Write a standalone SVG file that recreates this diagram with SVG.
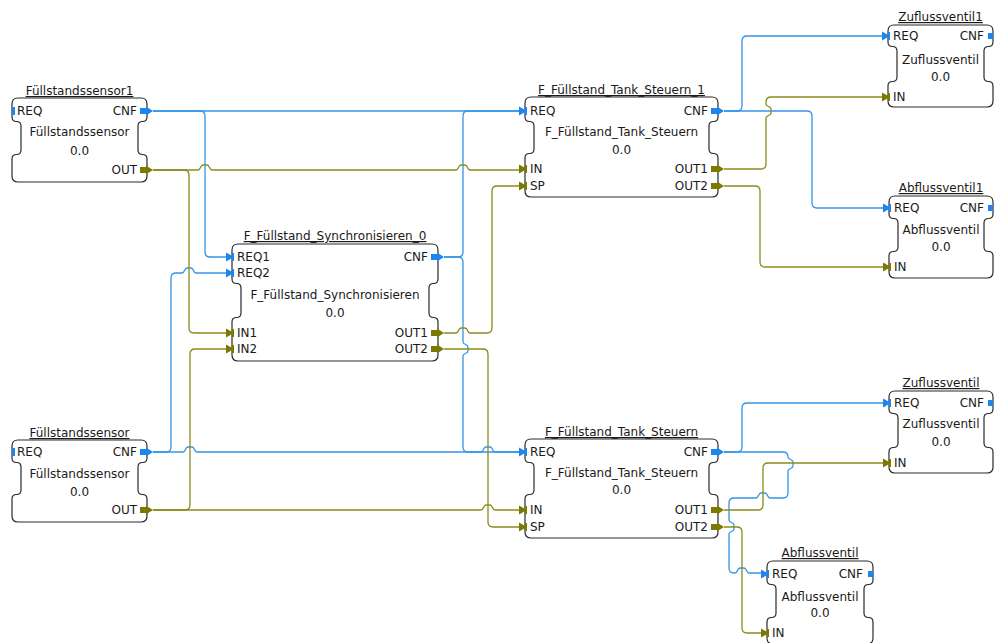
<svg xmlns="http://www.w3.org/2000/svg" xmlns:xlink="http://www.w3.org/1999/xlink" width="994" height="643" viewBox="0 0 994 643">
<style>
.box{fill:#fff;stroke:#2a2a2a;stroke-width:1.2}
.t{font-family:"DejaVu Sans",sans-serif;font-size:12px;fill:#1a1a1a}
.c{text-anchor:middle}
.r{text-anchor:end}
.ti{text-decoration:underline}
.ev{fill:none;stroke:#3595e6;stroke-width:1.3;stroke-linejoin:round}
.da{fill:none;stroke:#8a8a1e;stroke-width:1.3;stroke-linejoin:round}
.evf{fill:#1c86ee}
.daf{fill:#7a7a00}
</style>
<defs>
<g id="inE" class="evf"><polygon points="-6,-4.5 2,0 -6,4.5"/><rect x="0" y="-4" width="2" height="8"/></g>
<g id="inD" class="daf"><polygon points="-6,-4.5 2,0 -6,4.5"/><rect x="0" y="-4" width="2" height="8"/></g>
<g id="outE" class="evf"><rect x="-7" y="-3" width="6" height="6"/><polygon points="-1,-4.5 6,0 -1,4.5"/></g>
<g id="outD" class="daf"><rect x="-7" y="-3" width="6" height="6"/><polygon points="-1,-4.5 6,0 -1,4.5"/></g>
<rect id="tickE" class="evf" x="0" y="-4" width="3" height="8"/>
<rect id="sqE" class="evf" x="-5" y="-3" width="5" height="6"/>
</defs>
<rect width="994" height="643" fill="#fff"/>

<g id="connectors">
<path class="ev" d="M153,111 H519"/>
<path class="ev" d="M153,111 H200 Q205,111 205,116 V252 Q205,257 210,257 H226"/>
<path class="ev" d="M153,452 H183 c3,0 2,-5 5,-5 h4 c3,0 2,5 5,5 H481 c3,0 2,-5 5,-5 h4 c3,0 2,5 5,5 H519"/>
<path class="ev" d="M153,452 H166 Q171,452 171,447 V278 Q171,273 176,273 H182 c3,0 2,-5 5,-5 h4 c3,0 2,5 5,5 H226"/>
<path class="ev" d="M444,257 H458 Q463,257 463,252 V116 Q463,111 468,111 H519"/>
<path class="ev" d="M444,257 H458 Q463,257 463,262 V342 c0,3 5,2 5,5 v4 c0,3 -5,2 -5,5 V447 Q463,452 468,452 H519"/>
<path class="ev" d="M724,111 H737 Q742,111 742,106 V41 Q742,36 747,36 H882"/>
<path class="ev" d="M724,111 H807 Q812,111 812,116 V203 Q812,208 817,208 H883"/>
<path class="ev" d="M724,452 H737 Q742,452 742,447 V408 Q742,403 747,403 H883"/>
<path class="ev" d="M724,452 H783 Q788,452 788,457 c0,3 5,2 5,5 v4 c0,3 -5,2 -5,5 V493 Q788,498 783,498 H770 c-3,0 -2,-5 -5,-5 h-4 c-3,0 -2,5 -5,5 H734 Q729,498 729,503 V520 c0,3 5,2 5,5 v4 c0,3 -5,2 -5,5 V568 Q729,573 734,573 H735 c3,0 2,-5 5,-5 h4 c3,0 2,5 5,5 H761"/>
<path class="da" d="M153,170 H198 c3,0 2,-5 5,-5 h4 c3,0 2,5 5,5 H456 c3,0 2,-5 5,-5 h4 c3,0 2,5 5,5 H519"/>
<path class="da" d="M153,170 H184 Q189,170 189,175 V328 Q189,333 194,333 H226"/>
<path class="da" d="M153,510 H185 Q190,510 190,505 V354 Q190,349 195,349 H226"/>
<path class="da" d="M153,510 H481 c3,0 2,-5 5,-5 h4 c3,0 2,5 5,5 H519"/>
<path class="da" d="M444,333 H456 c3,0 2,-5 5,-5 h4 c3,0 2,5 5,5 H487 Q492,333 492,328 V191 Q492,186 497,186 H519"/>
<path class="da" d="M444,349 H483 Q488,349 488,354 V522 Q488,527 493,527 H519"/>
<path class="da" d="M724,169 H761 Q766,169 766,164 V118 c0,-3 5,-2 5,-5 v-4 c0,-3 -5,-2 -5,-5 V102 Q766,97 771,97 H882"/>
<path class="da" d="M724,186 H755 Q760,186 760,191 V262 Q760,267 765,267 H883"/>
<path class="da" d="M724,510 H758 Q763,510 763,505 V468 Q763,463 768,463 H883"/>
<path class="da" d="M724,527 H737 Q742,527 742,532 V628 Q742,633 747,633 H761"/>
</g>

<g id="Fuellstandssensor1">
<text class="t c ti" x="79.5" y="95">Füllstandssensor1</text>
<path class="box" d="M18,98 H141 Q147,98 147,104 V117 Q147,121.5 142.5,121.5 Q138,121.5 138,126 V150 Q138,154.5 142.5,154.5 Q147,154.5 147,159 V176 Q147,182 141,182 H18 Q12,182 12,176 V159 Q12,154.5 16.5,154.5 Q21,154.5 21,150 V126 Q21,121.5 16.5,121.5 Q12,121.5 12,117 V104 Q12,98 18,98 Z"/>
<text class="t" x="17" y="115">REQ</text>
<text class="t r" x="137" y="115">CNF</text>
<text class="t c" x="79.5" y="136">Füllstandssensor</text>
<text class="t c" x="79.5" y="155">0.0</text>
<text class="t r" x="137" y="174">OUT</text>
<use href="#tickE" x="12" y="111"/>
<use href="#outE" x="147" y="111"/>
<use href="#outD" x="147" y="170"/>
</g>

<g id="Fuellstandssensor">
<text class="t c ti" x="79.5" y="437">Füllstandssensor</text>
<path class="box" d="M18,440 H141 Q147,440 147,446 V458 Q147,462.5 142.5,462.5 Q138,462.5 138,467 V490 Q138,494.5 142.5,494.5 Q147,494.5 147,499 V516 Q147,522 141,522 H18 Q12,522 12,516 V499 Q12,494.5 16.5,494.5 Q21,494.5 21,490 V467 Q21,462.5 16.5,462.5 Q12,462.5 12,458 V446 Q12,440 18,440 Z"/>
<text class="t" x="17" y="456">REQ</text>
<text class="t r" x="137" y="456">CNF</text>
<text class="t c" x="79.5" y="478">Füllstandssensor</text>
<text class="t c" x="79.5" y="496">0.0</text>
<text class="t r" x="137" y="514">OUT</text>
<use href="#tickE" x="12" y="452"/>
<use href="#outE" x="147" y="452"/>
<use href="#outD" x="147" y="510"/>
</g>

<g id="F_Fuellstand_Synchronisieren_0">
<text class="t c ti" x="335" y="240">F_Füllstand_Synchronisieren_0</text>
<path class="box" d="M238,244 H432 Q438,244 438,250 V279 Q438,283.5 433.5,283.5 Q429,283.5 429,288 V313 Q429,317.5 433.5,317.5 Q438,317.5 438,322 V355 Q438,361 432,361 H238 Q232,361 232,355 V322 Q232,317.5 236.5,317.5 Q241,317.5 241,313 V288 Q241,283.5 236.5,283.5 Q232,283.5 232,279 V250 Q232,244 238,244 Z"/>
<text class="t" x="237" y="261">REQ1</text>
<text class="t" x="237" y="277">REQ2</text>
<text class="t r" x="428" y="261">CNF</text>
<text class="t c" x="335" y="299">F_Füllstand_Synchronisieren</text>
<text class="t c" x="335" y="317">0.0</text>
<text class="t" x="237" y="337">IN1</text>
<text class="t" x="237" y="353">IN2</text>
<text class="t r" x="428" y="337">OUT1</text>
<text class="t r" x="428" y="353">OUT2</text>
<use href="#inE" x="232" y="257"/>
<use href="#inE" x="232" y="273"/>
<use href="#outE" x="438" y="257"/>
<use href="#inD" x="232" y="333"/>
<use href="#inD" x="232" y="349"/>
<use href="#outD" x="438" y="333"/>
<use href="#outD" x="438" y="349"/>
</g>

<g id="F_Fuellstand_Tank_Steuern_1">
<text class="t c ti" x="621.5" y="94">F_Füllstand_Tank_Steuern_1</text>
<path class="box" d="M531,97 H712 Q718,97 718,103 V117 Q718,121.5 713.5,121.5 Q709,121.5 709,126 V149 Q709,153.5 713.5,153.5 Q718,153.5 718,158 V191 Q718,197 712,197 H531 Q525,197 525,191 V158 Q525,153.5 529.5,153.5 Q534,153.5 534,149 V126 Q534,121.5 529.5,121.5 Q525,121.5 525,117 V103 Q525,97 531,97 Z"/>
<text class="t" x="530" y="115">REQ</text>
<text class="t r" x="708" y="115">CNF</text>
<text class="t c" x="621.5" y="136">F_Füllstand_Tank_Steuern</text>
<text class="t c" x="621.5" y="154">0.0</text>
<text class="t" x="530" y="173">IN</text>
<text class="t" x="530" y="190">SP</text>
<text class="t r" x="708" y="173">OUT1</text>
<text class="t r" x="708" y="190">OUT2</text>
<use href="#inE" x="525" y="111"/>
<use href="#outE" x="718" y="111"/>
<use href="#inD" x="525" y="169"/>
<use href="#inD" x="525" y="186"/>
<use href="#outD" x="718" y="169"/>
<use href="#outD" x="718" y="186"/>
</g>

<g id="F_Fuellstand_Tank_Steuern">
<text class="t c ti" x="621.5" y="436">F_Füllstand_Tank_Steuern</text>
<path class="box" d="M531,439 H712 Q718,439 718,445 V458 Q718,462.5 713.5,462.5 Q709,462.5 709,467 V490 Q709,494.5 713.5,494.5 Q718,494.5 718,499 V532 Q718,538 712,538 H531 Q525,538 525,532 V499 Q525,494.5 529.5,494.5 Q534,494.5 534,490 V467 Q534,462.5 529.5,462.5 Q525,462.5 525,458 V445 Q525,439 531,439 Z"/>
<text class="t" x="530" y="456">REQ</text>
<text class="t r" x="708" y="456">CNF</text>
<text class="t c" x="621.5" y="477">F_Füllstand_Tank_Steuern</text>
<text class="t c" x="621.5" y="494">0.0</text>
<text class="t" x="530" y="514">IN</text>
<text class="t" x="530" y="531">SP</text>
<text class="t r" x="708" y="514">OUT1</text>
<text class="t r" x="708" y="531">OUT2</text>
<use href="#inE" x="525" y="452"/>
<use href="#outE" x="718" y="452"/>
<use href="#inD" x="525" y="510"/>
<use href="#inD" x="525" y="527"/>
<use href="#outD" x="718" y="510"/>
<use href="#outD" x="718" y="527"/>
</g>

<g id="Zuflussventil1">
<text class="t c ti" x="940.5" y="21">Zuflussventil1</text>
<path class="box" d="M894,25 H987 Q993,25 993,31 V42 Q993,46.5 988.5,46.5 Q984,46.5 984,51 V77 Q984,81.5 988.5,81.5 Q993,81.5 993,86 V101 Q993,107 987,107 H894 Q888,107 888,101 V86 Q888,81.5 892.5,81.5 Q897,81.5 897,77 V51 Q897,46.5 892.5,46.5 Q888,46.5 888,42 V31 Q888,25 894,25 Z"/>
<text class="t" x="893" y="40">REQ</text>
<text class="t r" x="984" y="40">CNF</text>
<text class="t c" x="940.5" y="64">Zuflussventil</text>
<text class="t c" x="940.5" y="81">0.0</text>
<text class="t" x="893" y="101">IN</text>
<use href="#inE" x="888" y="36"/>
<use href="#sqE" x="993" y="36"/>
<use href="#inD" x="888" y="97"/>
</g>

<g id="Abflussventil1">
<text class="t c ti" x="941" y="192">Abflussventil1</text>
<path class="box" d="M895,196 H987 Q993,196 993,202 V214 Q993,218.5 988.5,218.5 Q984,218.5 984,223 V247 Q984,251.5 988.5,251.5 Q993,251.5 993,256 V272 Q993,278 987,278 H895 Q889,278 889,272 V256 Q889,251.5 893.5,251.5 Q898,251.5 898,247 V223 Q898,218.5 893.5,218.5 Q889,218.5 889,214 V202 Q889,196 895,196 Z"/>
<text class="t" x="894" y="212">REQ</text>
<text class="t r" x="984" y="212">CNF</text>
<text class="t c" x="941" y="234">Abflussventil</text>
<text class="t c" x="941" y="251">0.0</text>
<text class="t" x="894" y="271">IN</text>
<use href="#inE" x="889" y="208"/>
<use href="#sqE" x="993" y="208"/>
<use href="#inD" x="889" y="267"/>
</g>

<g id="Zuflussventil">
<text class="t c ti" x="941" y="387">Zuflussventil</text>
<path class="box" d="M895,391 H987 Q993,391 993,397 V409 Q993,413.5 988.5,413.5 Q984,413.5 984,418 V443 Q984,447.5 988.5,447.5 Q993,447.5 993,452 V467 Q993,473 987,473 H895 Q889,473 889,467 V452 Q889,447.5 893.5,447.5 Q898,447.5 898,443 V418 Q898,413.5 893.5,413.5 Q889,413.5 889,409 V397 Q889,391 895,391 Z"/>
<text class="t" x="894" y="407">REQ</text>
<text class="t r" x="984" y="407">CNF</text>
<text class="t c" x="941" y="428">Zuflussventil</text>
<text class="t c" x="941" y="446">0.0</text>
<text class="t" x="894" y="467">IN</text>
<use href="#inE" x="889" y="403"/>
<use href="#sqE" x="993" y="403"/>
<use href="#inD" x="889" y="463"/>
</g>

<g id="Abflussventil">
<text class="t c ti" x="820" y="557">Abflussventil</text>
<path class="box" d="M773,561 H867 Q873,561 873,567 V580 Q873,584.5 868.5,584.5 Q864,584.5 864,589 V613 Q864,617.5 868.5,617.5 Q873,617.5 873,622 V638 Q873,644 867,644 H773 Q767,644 767,638 V622 Q767,617.5 771.5,617.5 Q776,617.5 776,613 V589 Q776,584.5 771.5,584.5 Q767,584.5 767,580 V567 Q767,561 773,561 Z"/>
<text class="t" x="772" y="578">REQ</text>
<text class="t r" x="863" y="578">CNF</text>
<text class="t c" x="820" y="601">Abflussventil</text>
<text class="t c" x="820" y="617">0.0</text>
<text class="t" x="772" y="637">IN</text>
<use href="#inE" x="767" y="574"/>
<use href="#sqE" x="873" y="574"/>
<use href="#inD" x="767" y="633"/>
</g>
</svg>
